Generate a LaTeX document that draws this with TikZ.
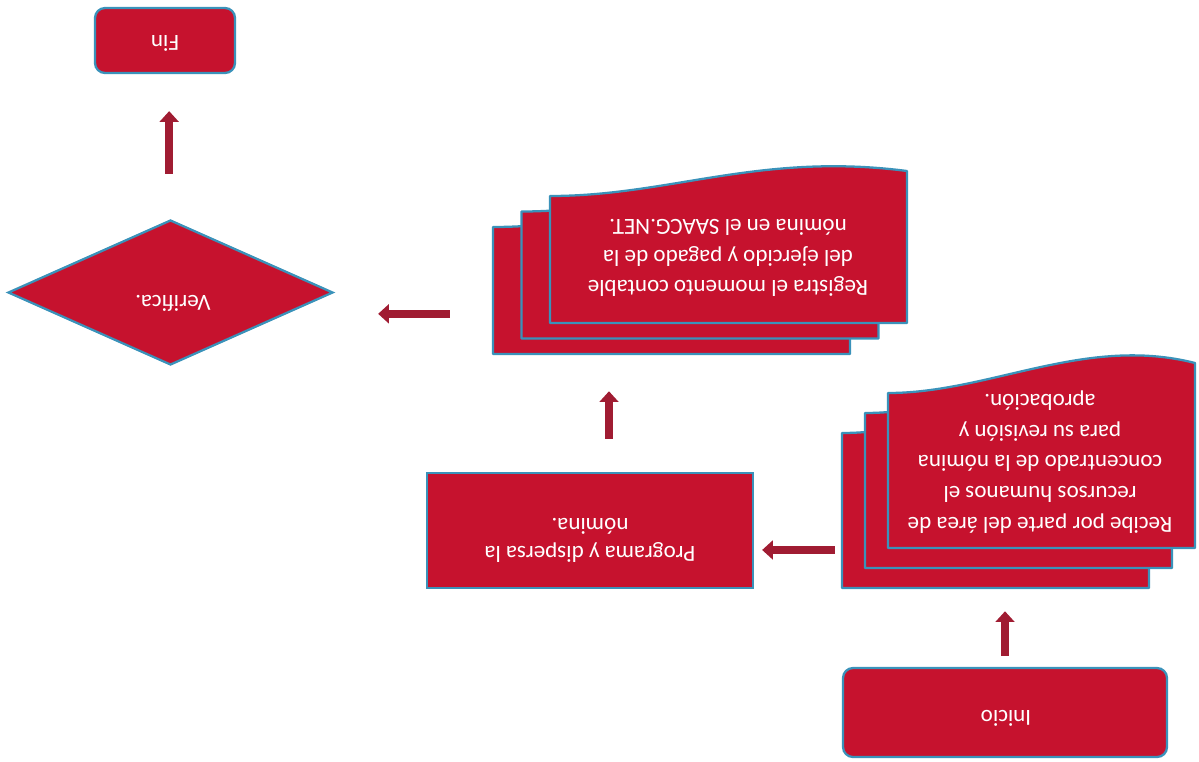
\documentclass[tikz,border=0pt]{standalone}
\usepackage{fontspec}
\setmainfont{Carlito}
\usetikzlibrary{arrows.meta,shapes.geometric}

\definecolor{boxred}{RGB}{198,18,46}
\definecolor{edgeblue}{RGB}{58,146,186}
\definecolor{arrred}{RGB}{160,28,50}

\tikzset{
  shapebox/.style={fill=boxred, draw=edgeblue, line width=1.7pt, inner sep=0pt},
  termbox/.style={shapebox, rectangle, rounded corners=7.5pt},
  procbox/.style={shapebox, rectangle},
  decbox/.style={shapebox, diamond},
  page/.style={fill=boxred, draw=edgeblue, line width=1.7pt, line join=round},
  stackarea/.style={rectangle, inner sep=0pt},
  txt/.style={text=white, align=center, rotate=180,
    font=\fontsize{17.3}{23}\selectfont},
  flow/.style={draw=arrred, line width=6pt,
    -{Triangle[width=14pt,length=8pt]}},
}

\begin{document}
\begin{tikzpicture}[x=0.75pt, y=-0.75pt]
\useasboundingbox (0,0) rectangle (1199,761);

% terminal, process and decision shapes
\node[termbox, minimum width=243pt, minimum height=66.75pt] (inicio) at (1005,712.5) {};
\node[procbox, minimum width=244.5pt, minimum height=86.25pt] (prog) at (590,530.5) {};
\node[decbox, minimum width=243.75pt, minimum height=108.75pt] (verifica) at (170.5,292.5) {};
\node[termbox, minimum width=105pt, minimum height=48.75pt] (fin) at (165,40.5) {};

% first stack of documents (back to front)
\foreach \dx/\dy in {-46/40, -23/20, 0/0}{
  \begin{scope}[shift={(\dx,\dy)}]
    \filldraw[page] (888,548) -- (1195,548) -- (1195,363)
      .. controls (1085,335) and (990,393) .. (888,393) -- cycle;
  \end{scope}
}
\node[stackarea, minimum width=264.75pt, minimum height=172.5pt] (doc1s) at (1018.5,473) {};

% second stack of documents (back to front)
\foreach \dx/\dy in {-57/31, -28.5/15.5, 0/0}{
  \begin{scope}[shift={(\dx,\dy)}]
    \filldraw[page] (550,323) -- (907,323) -- (907,171)
      .. controls (760,152) and (670,196) .. (550,196) -- cycle;
  \end{scope}
}
\node[stackarea, minimum width=310.5pt, minimum height=140.25pt] (doc2s) at (700,260.5) {};

% texts
\node[txt] (inicio-t) at (1006,718) {Inicio};
\node[txt] (doc1-t) at (1040,462) {Recibe por parte del área de\\recursos humanos el\\concentrado de la nómina\\para su revisión y\\aprobación.};
\node[txt, font=\fontsize{17.3}{21}\selectfont] (prog-t) at (590,540) {Programa y dispersa la\\nómina.};
\node[txt] (doc2-t) at (728,258) {Registra el momento contable\\del ejercido y pagado de la\\nómina en el SAACG.NET.};
\node[txt] (verifica-t) at (173,303) {Verifica.};
\node[txt] (fin-t) at (165,43) {Fin};

% connectors
\draw[flow, shorten <=8.25pt, shorten >=17.25pt] (inicio.north) -- (inicio.north |- doc1s.south);
\draw[flow, shorten <=5.25pt, shorten >=6pt]
  ([yshift=-14.6pt]prog.east -| doc1s.west) -- ([yshift=-14.6pt]prog.east);
\draw[flow, shorten <=24.75pt, shorten >=27.75pt]
  ([xshift=14.25pt]prog.north) -- ([xshift=14.25pt]prog.north |- doc2s.south);
\draw[flow, shorten <=32.25pt, shorten >=33pt]
  ([yshift=-16pt]verifica.east -| doc2s.west) -- ([yshift=-16pt]verifica.east);
\draw[flow, shorten <=33.75pt, shorten >=27.75pt]
  ([xshift=-1pt]verifica.north) -- ([xshift=-1pt]verifica.north |- fin.south);
\end{tikzpicture}
\end{document}
